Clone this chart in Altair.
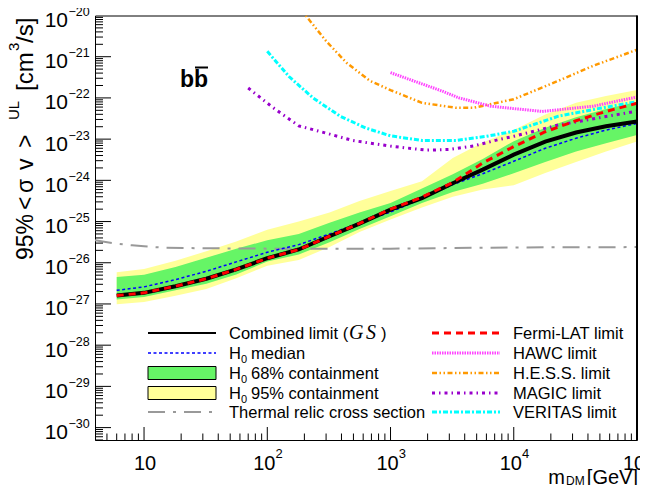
import altair as alt
import pandas as pd

# ---------------- values ----------------
mass = [6, 10, 18, 32, 56, 100, 180, 320, 560, 1000, 1800, 3200, 5600,
        10000, 18000, 32000, 56000, 100000]
combined = [1.6e-27, 1.86e-27, 2.7e-27, 4.1e-27, 6.9e-27, 1.29e-26, 2.1e-26, 4.4e-26, 8.9e-26,
            1.95e-25, 3.7e-25, 8.5e-25, 1.82e-24, 4.2e-24, 8.7e-24, 1.45e-23, 2.05e-23, 2.7e-23]
fermi = [1.6e-27, 1.86e-27, 2.7e-27, 4.1e-27, 6.9e-27, 1.29e-26, 2.1e-26, 4.4e-26, 9.0e-26,
         2.0e-25, 3.9e-25, 8.9e-25, 2.63e-24, 6.6e-24, 1.51e-23, 2.8e-23, 4.7e-23, 7.4e-23]
median = [2.14e-27, 2.6e-27, 3.9e-27, 6.2e-27, 1.05e-26, 1.8e-26, 2.75e-26, 5.0e-26, 9.3e-26,
          1.7e-25, 3.6e-25, 7.9e-25, 1.45e-24, 2.9e-24, 6.0e-24, 1.05e-23, 1.66e-23, 2.4e-23]
c68_hi = [4.5e-27, 5.1e-27, 7.9e-27, 1.32e-26, 2.2e-26, 3.5e-26, 5.0e-26, 9.3e-26, 1.66e-25,
          2.8e-25, 6.3e-25, 1.4e-24, 3.3e-24, 8.9e-24, 1.9e-23, 3.4e-23, 5.4e-23, 8.1e-23]
c68_lo = [1.29e-27, 1.48e-27, 2.14e-27, 3.1e-27, 5.2e-27, 1.07e-26, 1.58e-26, 3.16e-26, 6.6e-26,
          1.35e-25, 2.8e-25, 5.2e-25, 8.3e-25, 1.48e-24, 2.8e-24, 5.0e-24, 7.9e-24, 1.26e-23]
c95_hi = [5.9e-27, 7.1e-27, 1.12e-26, 1.9e-26, 3.3e-26, 6.3e-26, 1.0e-25, 1.66e-25, 3.16e-25,
          5.5e-25, 9.5e-25, 3.5e-24, 8.3e-24, 1.66e-23, 3.98e-23, 7.6e-23, 1.12e-22, 1.55e-22]
c95_lo = [9.8e-28, 1.12e-27, 1.58e-27, 2.3e-27, 4.2e-27, 8.5e-27, 1.17e-26, 2.4e-26, 5.6e-26,
          1.12e-25, 2.2e-25, 3.98e-25, 6.0e-25, 7.6e-25, 1.5e-24, 2.8e-24, 5.0e-24, 8.7e-24]

thermal_mass = [4, 6, 8, 10, 15, 30, 100, 1000, 10000, 100000]
thermal_val = [3.5e-26, 2.9e-26, 2.65e-26, 2.5e-26, 2.3e-26, 2.25e-26, 2.2e-26, 2.2e-26, 2.35e-26, 2.4e-26]

veritas_mass = [100, 150, 235, 390, 630, 1000, 1800, 3400, 6000, 10000, 23000, 50000, 100000]
veritas_val = [1.35e-21, 3.3e-22, 1.0e-22, 3.6e-23, 1.86e-23, 1.2e-23, 9.3e-24, 9.3e-24, 1.17e-23,
               1.55e-23, 3.6e-23, 5.6e-23, 8.1e-23]

hawc_mass = [1000, 2600, 3600, 6500, 10000, 17000, 44000, 100000]
hawc_val = [4.1e-22, 1.48e-22, 1.0e-22, 6.3e-23, 5.5e-23, 4.7e-23, 6.3e-23, 1.05e-22]

hess_mass = [178, 205, 300, 440, 680, 1000, 1800, 3400, 4700, 10000, 23000, 44000, 100000]
hess_val = [1.6e-20, 1.0e-20, 2.4e-21, 7.1e-22, 2.6e-22, 1.55e-22, 7.6e-23, 5.75e-23, 5.75e-23,
            9.3e-23, 2.6e-22, 6.0e-22, 1.48e-21]

magic_mass = [70, 112, 180, 300, 490, 980, 1950, 3000, 4700, 7600, 10000, 23000, 100000]
magic_val = [1.74e-22, 5.75e-23, 2.1e-23, 1.4e-23, 9.3e-24, 6.8e-24, 5.4e-24, 5.6e-24, 6.8e-24,
             9.8e-24, 1.17e-23, 2.2e-23, 4.8e-23]

y_decades = [1e-30, 1e-29, 1e-28, 1e-27, 1e-26, 1e-25, 1e-24, 1e-23, 1e-22, 1e-21, 1e-20]
y_exps = ["\u221230", "\u221229", "\u221228", "\u221227", "\u221226", "\u221225", "\u221224",
          "\u221223", "\u221222", "\u221221", "\u221220"]
x_decades = [100, 1000, 10000, 100000]
x_exps = ["2", "3", "4", "5"]

# ---------------- layout ----------------
W, H = 542, 424.5
FONT = "Liberation Sans"
xs = alt.Scale(type="log", domain=[4, 1e5], nice=False)
ys = alt.Scale(type="log", domain=[5e-31, 1e-20], nice=False)

main = pd.DataFrame({"mass": mass, "combined": combined, "fermi": fermi, "median": median,
                     "c68_hi": c68_hi, "c68_lo": c68_lo, "c95_hi": c95_hi, "c95_lo": c95_lo})
one = pd.DataFrame({"k": [0]})

layers = []

# bands (carry the axes)
band95 = alt.Chart(main).mark_area(color="#ffff99", opacity=1).encode(
    x=alt.X("mass:Q", scale=xs, axis=alt.Axis(values=[10, 100, 1000, 10000], grid=True, labels=False,
                                              ticks=False, title=None, domainColor="#1e1e64",
                                              domainWidth=2, gridColor="#555555", gridDash=[1, 2],
                                              gridWidth=1, gridOpacity=1)),
    y=alt.Y("c95_lo:Q", scale=ys, axis=alt.Axis(values=y_decades, grid=True, labels=False,
                                                ticks=False, title=None, domainColor="black",
                                                domainWidth=2, gridColor="#555555", gridDash=[1, 2],
                                                gridWidth=1, gridOpacity=1)),
    y2="c95_hi:Q")
layers.append(band95)
layers.append(alt.Chart(main).mark_area(color="#66f566", opacity=1).encode(
    x=alt.X("mass:Q", scale=xs, axis=None),
    y=alt.Y("c68_lo:Q", scale=ys, axis=None), y2="c68_hi:Q"))


def curve(m, v, color, width, dash=None, clip=True):
    df = pd.DataFrame({"m": m, "v": v})
    kw = dict(color=color, strokeWidth=width, clip=clip)
    if dash:
        kw["strokeDash"] = dash
    return alt.Chart(df).mark_line(**kw).encode(
        x=alt.X("m:Q", scale=xs, axis=None), y=alt.Y("v:Q", scale=ys, axis=None))


layers.append(curve(thermal_mass, thermal_val, "#999999", 2, [17, 8, 3, 8]))
layers.append(curve(magic_mass, magic_val, "#9900cc", 3, [3, 4, 1.5, 4]))
layers.append(curve(veritas_mass, veritas_val, "#00ffff", 3, [5, 2, 2, 2]))
layers.append(curve(hess_mass, hess_val, "#ff9900", 2.5, [5, 2.5, 1.5, 2.5, 1.5, 2.5]))
layers.append(curve(hawc_mass, hawc_val, "#ff44ff", 3, [1.5, 1]))
layers.append(curve(mass, median, "#0000ff", 1.5, [3, 2.5]))
layers.append(curve(mass, combined, "black", 4))
layers.append(curve(mass, fermi, "#ff0000", 3, [7, 5]))

# inner ticks (log minor ticks like the ROOT frame)
y_major = pd.DataFrame({"v": y_decades[:-1]})
y_minor = pd.DataFrame({"v": [k * 10.0 ** n for n in range(-31, -20) for k in range(2, 10)
                              if 5e-31 <= k * 10.0 ** n < 1e-20]})
x_major = pd.DataFrame({"v": [10, 100, 1000, 10000]})
x_minor = pd.DataFrame({"v": [k * 10.0 ** n for n in range(0, 5) for k in range(2, 10)
                              if 4 < k * 10.0 ** n < 1e5]})
for df, ln in ((y_major, 16), (y_minor, 8)):
    layers.append(alt.Chart(df).mark_rule(color="black", strokeWidth=1).encode(
        y=alt.Y("v:Q", scale=ys, axis=None), x=alt.value(0), x2=alt.value(ln)))
for df, ln in ((x_major, 13), (x_minor, 6.5)):
    layers.append(alt.Chart(df).mark_rule(color="black", strokeWidth=1).encode(
        x=alt.X("v:Q", scale=xs, axis=None), y=alt.value(H), y2=alt.value(H - ln)))

# right frame edge
layers.append(alt.Chart(one).mark_rule(color="black", strokeWidth=2).encode(
    x=alt.value(W), y=alt.value(0), y2=alt.value(H)))

# tick labels
ylab = pd.DataFrame({"v": y_decades, "e": y_exps})
layers.append(alt.Chart(ylab).mark_text(text="10", align="right", baseline="alphabetic", font=FONT,
                                        fontSize=21, dy=11.5, color="black").encode(
    y=alt.Y("v:Q", scale=ys, axis=None), x=alt.value(-27)))
layers.append(alt.Chart(ylab).mark_text(align="left", baseline="alphabetic", font=FONT,
                                        fontSize=12.5, dy=0.5, color="black").encode(
    y=alt.Y("v:Q", scale=ys, axis=None), x=alt.value(-26.5), text="e:N"))
xlab = pd.DataFrame({"v": x_decades, "e": x_exps})
layers.append(alt.Chart(pd.DataFrame({"v": [10]})).mark_text(
    text="10", align="center", baseline="alphabetic", font=FONT, fontSize=20, dx=1,
    color="black").encode(x=alt.X("v:Q", scale=xs, axis=None), y=alt.value(H + 30)))
layers.append(alt.Chart(xlab).mark_text(
    text="10", align="center", baseline="alphabetic", font=FONT, fontSize=20, dx=-3,
    color="black").encode(x=alt.X("v:Q", scale=xs, axis=None), y=alt.value(H + 30)))
layers.append(alt.Chart(xlab).mark_text(
    align="left", baseline="alphabetic", font=FONT, fontSize=13, dx=8.2,
    color="black").encode(x=alt.X("v:Q", scale=xs, axis=None), y=alt.value(H + 18), text="e:N"))


def txt(s, x, y, size, align="left", angle=0, font=FONT, style="normal", weight="normal"):
    kw = dict(text=s, align=align, baseline="alphabetic", fontSize=size, font=font,
              fontStyle=style, fontWeight=weight, color="black")
    if angle:
        kw["angle"] = angle
    return alt.Chart(one).mark_text(**kw).encode(x=alt.value(x), y=alt.value(y))


# axis titles (y title reads bottom to top, pieces placed at their starts)
for s, start, size, xb in (("95%", 244.5, 23, -62), ("<", 194.5, 23, -62), ("\u03c3", 177.5, 23, -62),
                           ("v", 154.5, 23, -62), (">", 132.5, 23, -62), ("UL", 104.5, 15, -76),
                           ("[cm", 75.5, 24, -62), ("3", 35.5, 15, -76), ("/s]", 27.5, 24, -62)):
    layers.append(txt(s, xb, start, size, "left", 270))
layers.append(txt("m", 470, 468.5, 20, "right"))
layers.append(txt("DM", 471, 469.5, 12, "left"))
layers.append(txt("[GeV]", 543, 468.5, 20, "right"))

# channel label
layers.append(txt("bb", 85, 71.5, 23, "left", weight="bold"))
layers.append(alt.Chart(one).mark_rule(color="black", strokeWidth=2).encode(
    x=alt.value(100), x2=alt.value(113), y=alt.value(52)))

# legend
layers.append(alt.Chart(one).mark_rect(color="white").encode(
    x=alt.value(37), x2=alt.value(515), y=alt.value(300.5), y2=alt.value(410.5)))
rows = [317.5, 337.5, 357.5, 377.5, 396.5]
LX1, LX2, LT = 53, 121, 134
RX1, RX2, RT = 337, 405, 418


def lline(x1, x2, y, color, width, dash=None):
    kw = dict(color=color, strokeWidth=width)
    if dash:
        kw["strokeDash"] = dash
    return alt.Chart(one).mark_rule(**kw).encode(x=alt.value(x1), x2=alt.value(x2), y=alt.value(y))


def lbox(y, color):
    return alt.Chart(one).mark_rect(fill=color, stroke="black", strokeWidth=1).encode(
        x=alt.value(LX1), x2=alt.value(LX2), y=alt.value(y - 6.5), y2=alt.value(y + 6.5))


LF = 16.5
layers.append(lline(LX1, LX2, rows[0], "black", 2))
layers.append(lline(LX1, LX2, rows[1], "#0000ff", 1.5, [3, 2.5]))
layers.append(lbox(rows[2], "#66f566"))
layers.append(lbox(rows[3], "#ffff99"))
layers.append(lline(LX1, LX2, rows[4], "#999999", 2, [17, 8, 3, 8]))
layers.append(lline(RX1, RX2, rows[0], "#ff0000", 3, [7, 5]))
layers.append(lline(RX1, RX2, rows[1], "#ff44ff", 3, [1.5, 1]))
layers.append(lline(RX1, RX2, rows[2], "#ff9900", 2.5, [5, 2.5, 1.5, 2.5, 1.5, 2.5]))
layers.append(lline(RX1, RX2, rows[3], "#9900cc", 3, [3, 4, 1.5, 4]))
layers.append(lline(RX1, RX2, rows[4], "#00ffff", 3, [5, 2, 2, 2]))

layers.append(txt("Combined limit (", LT, rows[0] + 6, LF))
layers.append(txt("G", 254, rows[0] + 6, 20, font="Liberation Serif", style="italic"))
layers.append(txt("S", 271, rows[0] + 6, 20, font="Liberation Serif", style="italic"))
layers.append(txt(")", 286, rows[0] + 6, LF))
for r, rest in ((rows[1], "median"), (rows[2], "68% containment"), (rows[3], "95% containment")):
    layers.append(txt("H", LT, r + 6, LF))
    layers.append(txt("0", LT + 12, r + 10, 11))
    layers.append(txt(rest, LT + 22, r + 6, LF))
layers.append(txt("Thermal relic cross section", LT, rows[4] + 6, LF))
for r, s in zip(rows, ["Fermi-LAT limit", "HAWC limit", "H.E.S.S. limit", "MAGIC limit",
                       "VERITAS limit"]):
    layers.append(txt(s, RT, r + 6, LF))

chart = alt.layer(*layers).properties(
    width=W, height=H,
    autosize=alt.AutoSizeParams(type="none"),
    padding={"left": 87, "top": 7.5, "right": 3, "bottom": 45},
).configure_view(stroke="black", strokeWidth=1)

chart.save("out.html", embed_options={"renderer": "svg", "actions": False})
